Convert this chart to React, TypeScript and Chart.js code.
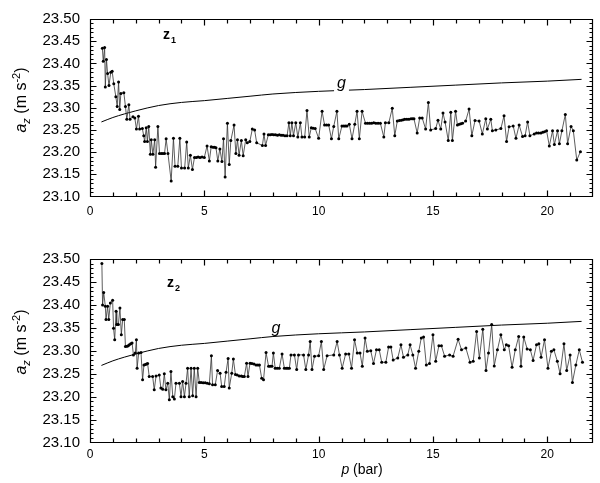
import { useEffect, useRef } from 'react';
import { Chart, registerables } from 'chart.js';

Chart.register(...registerables);

const FONT = '"Liberation Sans", Arial, Helvetica, sans-serif';
Chart.defaults.font.family = FONT;
Chart.defaults.color = '#000';

// reference curve g (same in both panels)
const gPressure = [0.5, 1.0, 1.5, 2, 3, 4, 5, 6, 7, 8, 10, 12, 14, 16, 18, 20, 21.5];
const gValues = [23.268, 23.278, 23.286, 23.293, 23.305, 23.312, 23.316, 23.321, 23.326, 23.331, 23.337, 23.341, 23.346, 23.351, 23.356, 23.36, 23.364];

// panel z1
const z1Pressure = [
  0.54, 0.58, 0.64, 0.67, 0.72, 0.77, 0.83, 0.91, 0.97, 1.04, 1.13, 1.19, 1.25, 1.3, 1.35, 1.48, 1.55, 1.61, 1.7, 1.75,
  1.88, 1.96, 2.03, 2.12, 2.17, 2.29, 2.35, 2.39, 2.46, 2.51, 2.57, 2.64, 2.68, 2.75, 2.83, 2.87, 2.97, 3.04, 3.12, 3.19,
  3.26, 3.33, 3.41, 3.55, 3.65, 3.72, 3.84, 3.93, 4.0, 4.14, 4.23, 4.3, 4.39, 4.48, 4.57, 4.65, 4.73, 4.81, 4.9, 5.0,
  5.12, 5.22, 5.3, 5.38, 5.45, 5.51, 5.59, 5.68, 5.77, 5.84, 5.91, 6.01, 6.09, 6.16, 6.3, 6.38, 6.45, 6.52, 6.62, 6.7,
  6.81, 6.88, 6.99, 7.1, 7.2, 7.29, 7.54, 7.61, 7.68, 7.8, 7.88, 7.96, 8.04, 8.12, 8.2, 8.28, 8.36, 8.44, 8.53, 8.62,
  8.7, 8.76, 8.83, 8.9, 9.0, 9.09, 9.2, 9.27, 9.39, 9.49, 9.59, 9.68, 9.76, 9.85, 10.0, 10.15, 10.26, 10.35, 10.44, 10.56,
  10.66, 10.8, 10.88, 11.02, 11.1, 11.17, 11.24, 11.34, 11.46, 11.58, 11.68, 11.78, 11.9, 12.05, 12.14, 12.23, 12.32, 12.41, 12.5, 12.6,
  12.7, 12.85, 12.92, 13.07, 13.22, 13.33, 13.44, 13.53, 13.62, 13.7, 13.77, 13.86, 13.95, 14.04, 14.11, 14.17, 14.31, 14.42, 14.53, 14.68,
  14.8, 14.9, 15.12, 15.22, 15.34, 15.44, 15.53, 15.67, 15.78, 15.85, 15.99, 16.07, 16.15, 16.22, 16.29, 16.43, 16.58, 16.7, 16.84, 17.02,
  17.16, 17.31, 17.38, 17.53, 17.6, 17.75, 17.97, 18.11, 18.22, 18.33, 18.51, 18.63, 18.77, 18.92, 19.03, 19.14, 19.24, 19.43, 19.53, 19.62,
  19.72, 19.8, 19.88, 19.97, 20.09, 20.23, 20.31, 20.45, 20.53, 20.64, 20.79, 20.89, 21.04, 21.14, 21.29, 21.45,
];
const z1Accel = [
  23.434, 23.405, 23.436, 23.347, 23.409, 23.377, 23.35, 23.38, 23.382, 23.354, 23.325, 23.303, 23.358, 23.296, 23.332, 23.334, 23.303, 23.274, 23.307, 23.274,
  23.28, 23.277, 23.252, 23.281, 23.252, 23.253, 23.237, 23.224, 23.255, 23.224, 23.258, 23.195, 23.228, 23.195, 23.228, 23.166, 23.258, 23.197, 23.197, 23.197,
  23.197, 23.23, 23.197, 23.135, 23.231, 23.168, 23.168, 23.231, 23.164, 23.164, 23.223, 23.164, 23.193, 23.161, 23.188, 23.188, 23.189, 23.188, 23.189, 23.188,
  23.214, 23.18, 23.212, 23.211, 23.211, 23.21, 23.18, 23.207, 23.179, 23.23, 23.144, 23.265, 23.172, 23.226, 23.261, 23.197, 23.228, 23.193, 23.226, 23.192,
  23.228, 23.221, 23.224, 23.252, 23.25, 23.221, 23.215, 23.241, 23.215, 23.239, 23.239, 23.24, 23.239, 23.239, 23.238, 23.239, 23.238, 23.238, 23.237, 23.237,
  23.266, 23.237, 23.266, 23.237, 23.266, 23.234, 23.266, 23.234, 23.234, 23.294, 23.234, 23.255, 23.254, 23.253, 23.231, 23.292, 23.261, 23.261, 23.261, 23.23,
  23.258, 23.292, 23.23, 23.259, 23.259, 23.259, 23.259, 23.263, 23.23, 23.263, 23.292, 23.23, 23.292, 23.265, 23.265, 23.265, 23.265, 23.266, 23.265, 23.265,
  23.265, 23.234, 23.266, 23.266, 23.299, 23.237, 23.27, 23.271, 23.272, 23.273, 23.274, 23.274, 23.274, 23.275, 23.275, 23.275, 23.243, 23.277, 23.277, 23.252,
  23.312, 23.25, 23.253, 23.272, 23.252, 23.288, 23.268, 23.226, 23.29, 23.226, 23.292, 23.261, 23.263, 23.264, 23.265, 23.27, 23.297, 23.237, 23.271, 23.27,
  23.241, 23.275, 23.252, 23.274, 23.248, 23.25, 23.253, 23.282, 23.224, 23.257, 23.259, 23.231, 23.261, 23.235, 23.237, 23.268, 23.237, 23.241, 23.243, 23.243,
  23.243, 23.245, 23.246, 23.248, 23.214, 23.248, 23.217, 23.248, 23.219, 23.248, 23.285, 23.219, 23.258, 23.248, 23.182, 23.201,
];

// panel z2
const z2Pressure = [
  0.52, 0.55, 0.6, 0.67, 0.7, 0.77, 0.82, 0.89, 0.99, 1.03, 1.08, 1.14, 1.17, 1.24, 1.31, 1.37, 1.43, 1.5, 1.55, 1.62,
  1.67, 1.72, 1.78, 1.84, 1.9, 1.98, 2.03, 2.06, 2.13, 2.23, 2.3, 2.36, 2.42, 2.47, 2.52, 2.59, 2.74, 2.81, 2.89, 3.03,
  3.1, 3.18, 3.25, 3.32, 3.4, 3.47, 3.54, 3.62, 3.69, 3.76, 3.91, 3.98, 4.05, 4.13, 4.2, 4.27, 4.34, 4.42, 4.49, 4.56,
  4.64, 4.71, 4.78, 4.86, 4.95, 5.04, 5.13, 5.22, 5.31, 5.36, 5.48, 5.58, 5.69, 5.76, 5.87, 5.95, 6.04, 6.09, 6.2, 6.27,
  6.36, 6.44, 6.53, 6.62, 6.68, 6.75, 6.85, 6.91, 7.0, 7.08, 7.17, 7.26, 7.34, 7.41, 7.51, 7.59, 7.7, 7.81, 7.88, 7.96,
  8.02, 8.1, 8.19, 8.28, 8.4, 8.5, 8.58, 8.65, 8.72, 8.79, 8.94, 9.04, 9.12, 9.34, 9.44, 9.56, 9.63, 9.71, 9.82, 10.0,
  10.12, 10.22, 10.37, 10.66, 10.81, 10.91, 11.03, 11.18, 11.32, 11.44, 11.57, 11.69, 11.81, 11.91, 12.03, 12.13, 12.28, 12.4, 12.53, 12.65,
  12.76, 12.94, 13.06, 13.16, 13.26, 13.46, 13.6, 13.71, 13.9, 14.0, 14.12, 14.24, 14.38, 14.49, 14.59, 14.71, 14.85, 15.0, 15.12, 15.26,
  15.37, 15.51, 15.73, 15.88, 16.1, 16.25, 16.44, 16.62, 16.76, 16.91, 17.03, 17.18, 17.32, 17.43, 17.57, 17.68, 17.82, 17.97, 18.12, 18.21,
  18.31, 18.46, 18.6, 18.75, 18.85, 18.97, 19.12, 19.26, 19.38, 19.53, 19.63, 19.73, 19.88, 20.03, 20.18, 20.29, 20.44, 20.56, 20.73, 20.85,
  21.0, 21.1, 21.25, 21.4, 21.54,
];
const z2Accel = [
  23.49, 23.4, 23.427, 23.397, 23.368, 23.397, 23.368, 23.404, 23.41, 23.349, 23.324, 23.386, 23.357, 23.357, 23.393, 23.335, 23.368, 23.368, 23.309, 23.31,
  23.311, 23.313, 23.315, 23.317, 23.291, 23.295, 23.324, 23.262, 23.295, 23.296, 23.237, 23.269, 23.27, 23.271, 23.272, 23.244, 23.244, 23.215, 23.245, 23.247,
  23.219, 23.216, 23.25, 23.215, 23.229, 23.193, 23.255, 23.2, 23.195, 23.229, 23.229, 23.2, 23.233, 23.2, 23.229, 23.262, 23.2, 23.262, 23.202, 23.262,
  23.2, 23.262, 23.231, 23.231, 23.23, 23.23, 23.229, 23.228, 23.289, 23.226, 23.226, 23.257, 23.251, 23.222, 23.222, 23.253, 23.283, 23.219, 23.251, 23.282,
  23.248, 23.247, 23.245, 23.245, 23.244, 23.244, 23.273, 23.244, 23.273, 23.272, 23.271, 23.269, 23.269, 23.269, 23.24, 23.237, 23.296, 23.266, 23.266, 23.266,
  23.295, 23.262, 23.262, 23.262, 23.293, 23.262, 23.262, 23.262, 23.262, 23.291, 23.291, 23.259, 23.291, 23.291, 23.259, 23.291, 23.32, 23.259, 23.288, 23.289,
  23.32, 23.259, 23.289, 23.291, 23.32, 23.291, 23.262, 23.293, 23.293, 23.262, 23.324, 23.295, 23.295, 23.266, 23.328, 23.299, 23.3, 23.272, 23.302, 23.302,
  23.275, 23.275, 23.308, 23.308, 23.28, 23.284, 23.313, 23.286, 23.291, 23.313, 23.291, 23.262, 23.299, 23.328, 23.33, 23.269, 23.272, 23.335, 23.277, 23.311,
  23.311, 23.288, 23.291, 23.288, 23.325, 23.302, 23.306, 23.275, 23.277, 23.342, 23.284, 23.347, 23.257, 23.295, 23.357, 23.267, 23.302, 23.335, 23.302, 23.313,
  23.311, 23.264, 23.302, 23.331, 23.266, 23.33, 23.304, 23.302, 23.279, 23.313, 23.315, 23.286, 23.324, 23.262, 23.299, 23.302, 23.277, 23.25, 23.315, 23.257,
  23.291, 23.231, 23.269, 23.302, 23.275,
];

const xTickValues = [0, 5, 10, 15, 20];
const yTickValues = [23.1, 23.15, 23.2, 23.25, 23.3, 23.35, 23.4, 23.45, 23.5];

// box and inward ticks on all four sides, drawn with a single stroked path
const framePlugin = {
  id: 'frameBox',
  beforeDatasetsDraw(chart: any) {
    const ctx: CanvasRenderingContext2D = chart.ctx;
    const xs = chart.scales.x;
    const ys = chart.scales.y;
    const left = Math.round(xs.getPixelForValue(0)) + 0.5;
    const right = Math.round(xs.getPixelForValue(22)) - 0.5;
    const top = Math.round(ys.getPixelForValue(23.5)) + 0.5;
    const bottom = Math.round(ys.getPixelForValue(23.1)) - 0.5;
    ctx.save();
    ctx.strokeStyle = 'rgb(0,0,0)';
    ctx.lineWidth = 1.2;
    ctx.setLineDash([]);
    ctx.beginPath();
    ctx.rect(left, top, right - left, bottom - top);
    for (let i = 1; i < 22; i++) {
      const px = Math.round(xs.getPixelForValue(i)) + 0.5;
      const len = i % 5 === 0 ? 6 : 4;
      ctx.moveTo(px, bottom);
      ctx.lineTo(px, bottom - len);
      ctx.moveTo(px, top);
      ctx.lineTo(px, top + len);
    }
    for (let i = 1; i < 40; i++) {
      const py = Math.round(ys.getPixelForValue(23.1 + i * 0.01)) + 0.5;
      const len = i % 5 === 0 ? 6 : 3;
      ctx.moveTo(left, py);
      ctx.lineTo(left + len, py);
      ctx.moveTo(right, py);
      ctx.lineTo(right - len, py);
    }
    ctx.stroke();
    ctx.restore();
  },
};

// text annotations: panel label, g label, axis titles
const decorPlugin = {
  id: 'decor',
  afterDatasetsDraw(chart: any, _args: any, opts: any) {
    const { ctx } = chart;
    const xs = chart.scales.x;
    const ys = chart.scales.y;
    ctx.save();
    ctx.fillStyle = '#000';
    ctx.textBaseline = 'alphabetic';
    ctx.textAlign = 'left';
    ctx.font = 'bold 14px ' + FONT;
    ctx.fillText('z', opts.labelX, opts.labelY);
    const zw = ctx.measureText('z').width;
    ctx.font = 'bold 9px ' + FONT;
    ctx.fillText(opts.sub, opts.labelX + zw + 1, opts.labelY + 4);

    const gx = xs.getPixelForValue(opts.gP);
    const gy = ys.getPixelForValue(opts.gV);
    ctx.font = 'italic 16px ' + FONT;
    const gw = ctx.measureText('g').width;
    if (opts.gGap) {
      ctx.fillStyle = '#fff';
      ctx.fillRect(gx - gw / 2 - 3, gy - 8, gw + 6, 18);
      ctx.fillStyle = '#000';
    }
    ctx.textAlign = 'center';
    ctx.textBaseline = 'middle';
    ctx.fillText('g', gx, gy);

    ctx.translate(opts.yTitleX, opts.yTitleY);
    ctx.rotate(-Math.PI / 2);
    ctx.textAlign = 'left';
    ctx.textBaseline = 'alphabetic';
    const parts = [
      { t: 'a', f: 'italic 16px ' + FONT, dy: 0 },
      { t: 'z', f: 'italic 11px ' + FONT, dy: 4 },
      { t: ' (m s', f: '16px ' + FONT, dy: 0 },
      { t: '-2', f: '11px ' + FONT, dy: -6 },
      { t: ')', f: '16px ' + FONT, dy: 0 },
    ];
    let total = 0;
    parts.forEach((p) => {
      ctx.font = p.f;
      total += ctx.measureText(p.t).width;
    });
    let cx = -total / 2;
    parts.forEach((p) => {
      ctx.font = p.f;
      ctx.fillText(p.t, cx, 6 + p.dy);
      cx += ctx.measureText(p.t).width;
    });
    ctx.restore();

    if (opts.xTitle) {
      ctx.save();
      ctx.fillStyle = '#000';
      ctx.textBaseline = 'middle';
      ctx.textAlign = 'left';
      ctx.font = 'italic 14px ' + FONT;
      const pw = ctx.measureText('p').width;
      ctx.font = '14px ' + FONT;
      const rw = ctx.measureText(' (bar)').width;
      const sx = opts.xTitleX - (pw + rw) / 2;
      ctx.font = 'italic 14px ' + FONT;
      ctx.fillText('p', sx, opts.xTitleY);
      ctx.font = '14px ' + FONT;
      ctx.fillText(' (bar)', sx + pw, opts.xTitleY);
      ctx.restore();
    }
  },
};

interface PanelProps {
  pressure: number[];
  accel: number[];
  height: number;
  padTop: number;
  xTickPad: number;
  decor: any;
}

function Panel({ pressure, accel, height, padTop, xTickPad, decor }: PanelProps) {
  const canvasRef = useRef<HTMLCanvasElement>(null);

  useEffect(() => {
    if (!canvasRef.current) return;
    const chart = new Chart(canvasRef.current, {
      type: 'line',
      data: {
        datasets: [
          {
            data: gPressure.map((p, i) => ({ x: p, y: gValues[i] })),
            borderColor: '#000',
            borderWidth: 1,
            pointRadius: 0,
            cubicInterpolationMode: 'monotone',
            order: 2,
          },
          {
            data: pressure.map((p, i) => ({ x: p, y: accel[i] })),
            borderColor: '#333',
            borderWidth: 0.8,
            pointRadius: 1.5,
            pointBackgroundColor: '#000',
            pointBorderWidth: 0,
            order: 1,
          },
        ],
      } as any,
      options: {
        animation: false,
        responsive: true,
        maintainAspectRatio: false,
        layout: { padding: { top: padTop, right: 7, left: 0, bottom: 0 } },
        plugins: {
          legend: { display: false },
          tooltip: { enabled: false },
          decor,
        } as any,
        scales: {
          x: {
            type: 'linear',
            min: 0,
            max: 22,
            afterFit: (s: any) => { s.height = height - (padTop + 183.5); },
            afterBuildTicks: (s: any) => { s.ticks = xTickValues.map((v) => ({ value: v })); },
            grid: { display: false, drawTicks: false },
            border: { display: false },
            ticks: { padding: xTickPad, font: { size: 12 }, maxRotation: 0 },
          },
          y: {
            min: 23.1,
            max: 23.5,
            afterFit: (s: any) => { s.width = 90; },
            afterBuildTicks: (s: any) => { s.ticks = yTickValues.map((v) => ({ value: v })); },
            grid: { display: false, drawTicks: false },
            border: { display: false },
            ticks: { padding: 10, font: { size: 15 }, callback: (v: any) => Number(v).toFixed(2) },
          },
        },
      } as any,
      plugins: [framePlugin, decorPlugin],
    });
    return () => chart.destroy();
  }, []);

  return (
    <div style={{ position: 'relative', width: 600, height }}>
      <canvas ref={canvasRef} />
    </div>
  );
}

export default function App() {
  useEffect(() => {
    document.body.style.margin = '0';
  }, []);

  return (
    <div style={{ width: 600, height: 483, background: '#fff' }}>
      <Panel
        pressure={z1Pressure}
        accel={z1Accel}
        height={230}
        padTop={13}
        xTickPad={8}
        decor={{ labelX: 163, labelY: 39, sub: '1', gP: 11.0, gV: 23.354, gGap: true, yTitleX: 20, yTitleY: 100 }}
      />
      <Panel
        pressure={z2Pressure}
        accel={z2Accel}
        height={253}
        padTop={29}
        xTickPad={5}
        decor={{ labelX: 167, labelY: 57, sub: '2', gP: 8.13, gV: 23.349, gGap: false, yTitleX: 20, yTitleY: 112, xTitle: true, xTitleX: 362, xTitleY: 240 }}
      />
    </div>
  );
}
